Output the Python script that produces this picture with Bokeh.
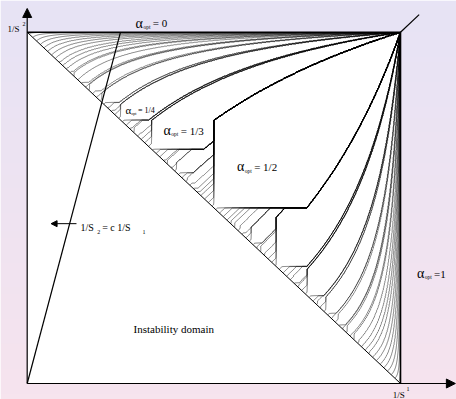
import numpy as np
from math import gcd

from bokeh.plotting import figure
from bokeh.models import Range1d, Arrow, NormalHead, Label
from bokeh.embed import file_html
from bokeh.resources import INLINE

# ---------------------------------------------------------------------------
# Model of the optimal routing ratio alpha_opt over (1/S1, 1/S2)
# ---------------------------------------------------------------------------
MAX_DENOMINATOR = 30     # plateaus at every reduced p/q with q up to this
PLATEAU_WIDTH = 0.60     # half-width of the plateau of p/q: PLATEAU_WIDTH / q**PLATEAU_DECAY
PLATEAU_DECAY = 2.17
PLATEAU_SKEW = 0.225     # plateaus reach further towards 1/2 than away from it
LEVEL_STEP = 0.01        # spacing of the drawn iso-alpha curves
GRID = 720               # samples per unit along each axis
RAY_SLOPE = 4.0          # c in 1/S2 = c 1/S1

# alpha_opt labels written on the plateaus
alpha_labels = ["0", "1/4", "1/3", "1/2", "1"]

# ---------------------------------------------------------------------------
# alpha_opt field on the stable triangle 1/S1 + 1/S2 > 1
# ---------------------------------------------------------------------------
g = (np.arange(GRID) + 0.5) / GRID
U, V = np.meshgrid(g, g)
stable = U + V > 1.0

# continuous optimum: sqrt(S2 - 1) / (sqrt(S1 - 1) + sqrt(S2 - 1));
# equals 1/S1 on the stability boundary and fans out of the corner S1 = S2 = 1
e1 = np.sqrt(1.0 / U - 1.0)
e2 = np.sqrt(1.0 / V - 1.0)
ratio = e2 / (e1 + e2)

alpha = ratio.copy()
free = stable.copy()
for q in range(2, MAX_DENOMINATOR + 1):
    half = PLATEAU_WIDTH / q**PLATEAU_DECAY
    for pnum in range(1, q):
        if gcd(pnum, q) != 1:
            continue
        r = pnum / q
        if r < 0.5:
            below, above = half * (1 - PLATEAU_SKEW), half * (1 + PLATEAU_SKEW)
        elif r > 0.5:
            below, above = half * (1 + PLATEAU_SKEW), half * (1 - PLATEAU_SKEW)
        else:
            below = above = half
        j0 = np.searchsorted(g, r)          # 1/S1 >= r
        i0 = np.searchsorted(g, 1.0 - r)    # 1/S2 >= 1 - r
        blk = ratio[i0:, j0:]
        m = free[i0:, j0:] & (blk >= r - below) & (blk <= r + above)
        alpha[i0:, j0:][m] = r
        free[i0:, j0:][m] = False

alpha[~stable] = np.nan
alpha_masked = np.ma.masked_invalid(alpha)
levels = np.arange(LEVEL_STEP / 2, 1.0, LEVEL_STEP)

# ---------------------------------------------------------------------------
# Figure
# ---------------------------------------------------------------------------
X0, X1 = -0.0715, 1.150
Y0, Y1 = -0.0455, 1.0902

p = figure(width=456, height=399, output_backend="svg", toolbar_location=None,
           x_range=Range1d(X0, X1), y_range=Range1d(Y0, Y1),
           x_axis_location=None, y_axis_location=None, min_border=0)
p.grid.visible = False
p.outline_line_color = None

# soft lavender-to-pink backdrop
rows = 64
top_rgb = np.array([231, 227, 245], dtype=float)
bot_rgb = np.array([246, 228, 238], dtype=float)
t = np.linspace(0.0, 1.0, rows)[:, None]
shade = (bot_rgb + (top_rgb - bot_rgb) * t).astype(np.uint8)
bg = np.empty((rows, 1), dtype=np.uint32)
bg_view = bg.view(dtype=np.uint8).reshape((rows, 1, 4))
bg_view[:, 0, :3] = shade
bg_view[:, 0, 3] = 255
p.image_rgba(image=[bg], x=X0, y=Y0, dw=X1 - X0, dh=Y1 - Y0)

# unit square
p.quad(left=0, right=1, bottom=0, top=1, fill_color="white", line_color=None)

# iso-alpha curves
p.contour(x=g, y=g, z=alpha_masked, levels=levels,
          line_color="black", line_width=0.5)

# boundary of the instability domain and upper / right edges
p.line([0, 1], [1, 0], line_color="black", line_width=1.0)
p.line([0, 1, 1], [1, 1, 0], line_color="black", line_width=1.6)
# the alpha_opt = 1/2 diagonal leaving the corner
p.line([1, 1.05], [1, 1.05], line_color="black", line_width=1.2)

# reference line 1/S2 = c 1/S1
p.line([0, 1.0 / RAY_SLOPE], [0, 1.0], line_color="black", line_width=1.2)

# axes with arrow heads
p.add_layout(Arrow(end=NormalHead(size=9, fill_color="black", line_color="black"),
                   x_start=0, y_start=0, x_end=0, y_end=1.0675,
                   line_color="black", line_width=1.2))
p.add_layout(Arrow(end=NormalHead(size=9, fill_color="black", line_color="black"),
                   x_start=0, y_start=0, x_end=1.147, y_end=0,
                   line_color="black", line_width=1.2))

SERIF = "Liberation Serif"


def txt(x, y, s, size, **kw):
    p.add_layout(Label(x=x, y=y, text=s, text_font=SERIF,
                       text_font_size=f"{size}px", text_color="black",
                       text_baseline="alphabetic", **kw))


def alpha_label(x, y, val, size, sep="= "):
    # alpha with a small 'opt' subscript, followed by "= value"
    txt(x, y, "\u03b1", size + 3)
    txt(x + 0.021 * size / 11, y - 0.011 * size / 11, "opt", size * 0.5)
    txt(x + 0.046 * size / 11, y, sep + val, size)


# axis names
txt(-0.0528, 1.0105, "1/S", 9)
txt(-0.0126, 1.0230, "2", 6)
txt(0.979, -0.0313, "1/S", 9)
txt(1.016, -0.0170, "1", 6)

alpha_label(0.2903, 1.0250, alpha_labels[0], 11)
alpha_label(0.2633, 0.7771, alpha_labels[1], 8)
alpha_label(0.3652, 0.7200, alpha_labels[2], 11)
alpha_label(0.5620, 0.6170, alpha_labels[3], 11)
alpha_label(1.0440, 0.3131, alpha_labels[4], 11, sep="=")

# reference-line caption with its pointer
txt(0.1430, 0.4440, "1/S", 10)
txt(0.1880, 0.4300, "2", 6)
txt(0.2010, 0.4440, "= c 1/S", 10)
txt(0.3090, 0.4300, "1", 6)
p.add_layout(Arrow(end=NormalHead(size=6, fill_color="black", line_color="black"),
                   x_start=0.132, y_start=0.455, x_end=0.064, y_end=0.455,
                   line_color="black", line_width=1.0))

txt(0.2850, 0.1540, "Instability domain", 11)

open("out.html", "w").write(file_html(p, INLINE))
